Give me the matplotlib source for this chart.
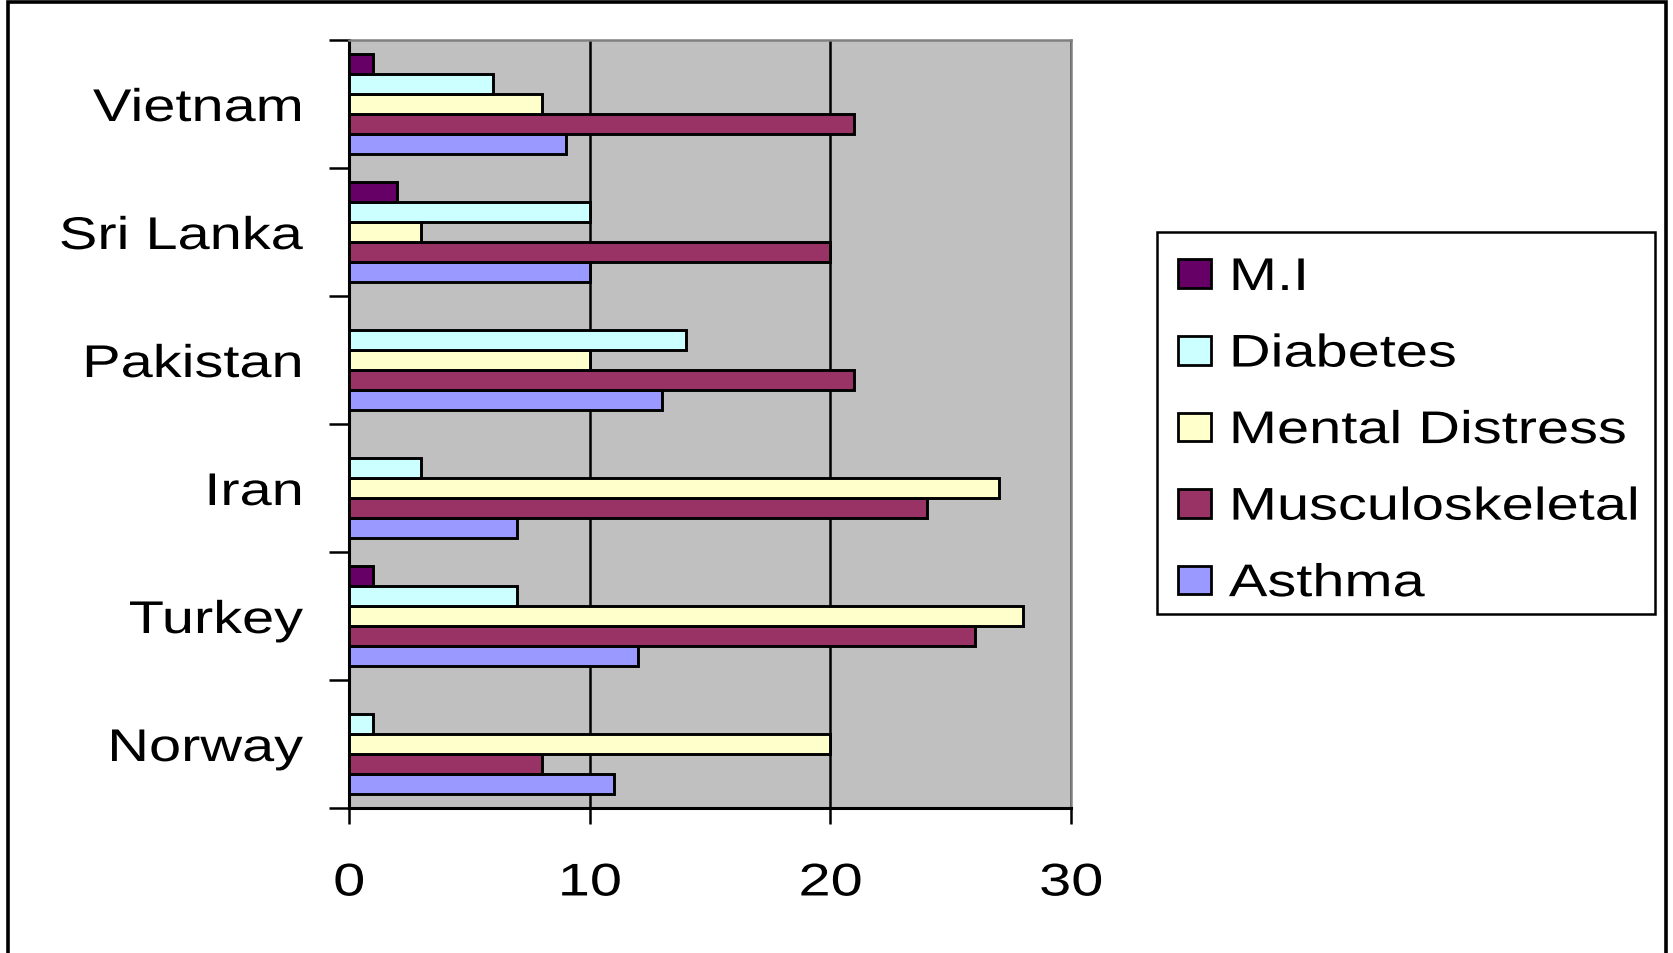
import matplotlib
matplotlib.use("Agg")
import matplotlib.pyplot as plt
import matplotlib.patheffects as pe
from matplotlib.patches import Rectangle
from matplotlib.transforms import Affine2D
import numpy as np

countries = ["Norway", "Turkey", "Iran", "Pakistan", "Sri Lanka", "Vietnam"]
asthma = [11, 12, 7, 13, 10, 9]
musculoskeletal = [8, 26, 24, 21, 20, 21]
mental_distress = [20, 28, 27, 10, 3, 8]
diabetes = [1, 7, 3, 14, 10, 6]
mi = [0, 1, 0, 0, 2, 1]
x_ticks = [0, 10, 20, 30]

# plotted bottom-to-top inside each country group
series = [
    ("Asthma", asthma, "#9999FF"),
    ("Musculoskeletal", musculoskeletal, "#993366"),
    ("Mental Distress", mental_distress, "#FFFFCC"),
    ("Diabetes", diabetes, "#CCFFFF"),
    ("M.I", mi, "#660066"),
]

plt.rcParams["font.family"] = ["Liberation Sans", "DejaVu Sans"]
FS = 33
SX = 1.26  # old Excel export: text runs wide


class Stretch(pe.AbstractPathEffect):
    """Widen glyphs horizontally, keeping the aligned edge in place."""

    def __init__(self, sx, anchor="left"):
        super().__init__()
        self.sx = sx
        self.anchor = anchor

    def draw_path(self, renderer, gc, tpath, affine, rgbFace=None):
        ext = tpath.get_extents()
        x0 = {"left": 0.0, "center": ext.x1 / 2.0, "right": ext.x1}[self.anchor]
        st = Affine2D().translate(-x0, 0).scale(self.sx, 1).translate(x0, 0)
        renderer.draw_path(gc, tpath, st + affine, rgbFace)


W, H = 1673, 954
fig = plt.figure(figsize=(W / 100, H / 100), dpi=100)
ax = fig.add_axes([349 / W, 1 - 809 / H, (1071 - 349) / W, (809 - 41) / H])
ax.set_facecolor("#C0C0C0")

n = len(countries)
centers = np.arange(n) + 0.5
bh = 0.156
group = bh * len(series)
handles = []
for j, (name, vals, col) in enumerate(series):
    ypos = centers - group / 2 + bh * (j + 0.5)
    b = ax.barh(ypos, vals, height=bh, color=col, edgecolor="black",
                linewidth=2.1, label=name, zorder=3)
    handles.append(b)

ax.set_xlim(0, 30)
ax.set_ylim(0, n)

ax.set_xticks(x_ticks)
ax.set_xticklabels([str(t) for t in x_ticks], fontsize=FS)
ax.tick_params(axis="x", direction="out", length=11.5, width=1.8, pad=27)

ax.set_yticks(np.arange(n + 1))
ax.set_yticklabels([])
ax.set_yticks(centers, minor=True)
ax.set_yticklabels(countries, minor=True, fontsize=FS)
ax.tick_params(axis="y", which="major", direction="out", length=14.4, width=1.8)
ax.tick_params(axis="y", which="minor", length=0, pad=33)

ax.xaxis.grid(True, color="black", linewidth=1.8, zorder=1)
ax.set_axisbelow(True)

for side in ("left", "bottom"):
    ax.spines[side].set_color("black")
    ax.spines[side].set_linewidth(2.2)
for side in ("top", "right"):
    ax.spines[side].set_color("#808080")
    ax.spines[side].set_linewidth(1.8)

for lab in ax.get_yticklabels(minor=True):
    lab.set_path_effects([Stretch(SX, "right")])
for lab in ax.get_xticklabels():
    lab.set_path_effects([Stretch(SX, "center")])

# legend, top entry first
leg = fig.legend(handles[::-1], [s[0] for s in series[::-1]],
                 loc="upper left", bbox_to_anchor=(1178 / W, 1 - 257 / H),
                 frameon=False, fontsize=FS, borderpad=0, borderaxespad=0,
                 handlelength=0.72, handleheight=0.59, handletextpad=0.39,
                 labelspacing=0.71)
for t in leg.get_texts():
    t.set_path_effects([Stretch(SX, "left")])
for p in leg.get_patches():
    p.set_linewidth(2)

fig.patches.append(Rectangle((1157 / W, 1 - 615 / H), (1655 - 1157) / W,
                             (615 - 233) / H, transform=fig.transFigure,
                             fill=False, edgecolor="black", linewidth=1.8))

# outer chart frame, open at the bottom edge
fig.patches.append(Rectangle((8 / W, -0.02), (1666 - 8) / W, 1.02 - 3 / H,
                             transform=fig.transFigure, fill=False,
                             edgecolor="black", linewidth=2.6))

fig.savefig("out.png", dpi=100)
